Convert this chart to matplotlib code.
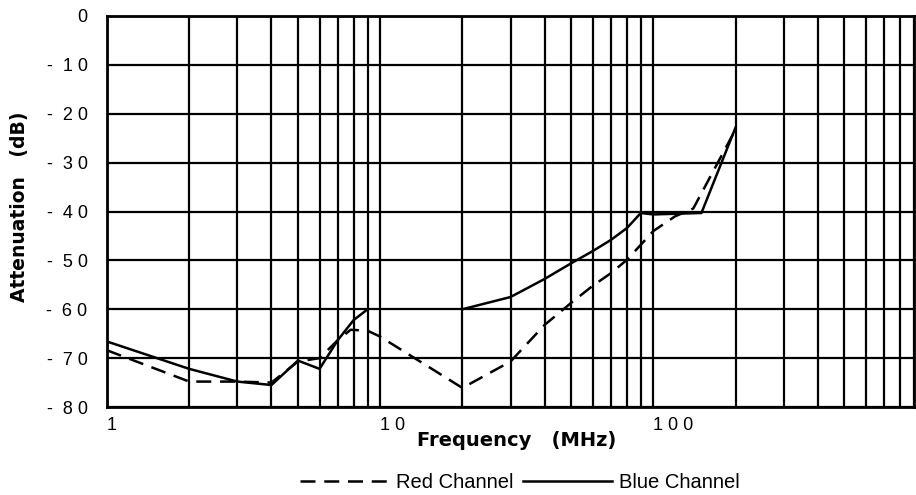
import numpy as np
import matplotlib
matplotlib.use('Agg')
import matplotlib.pyplot as plt
from matplotlib.lines import Line2D

# (frequency in MHz, attenuation in dB)
red_freq = [1, 2, 3, 4, 5, 6, 7, 7.8, 9, 10, 20, 30, 40, 50, 60, 70, 80, 90, 100, 120, 140, 200]
red_db = [-68.4, -74.8, -74.8, -75.0, -70.7, -70.0, -66.3, -64.2, -64.4, -65.6, -76.1,
          -70.7, -63.2, -58.7, -55.2, -52.6, -49.9, -46.8, -44.0, -41.0, -39.4, -23.2]

# the blue trace has a gap between 9 and 20 MHz
blue_freq = [1, 2, 3, 4, 5, 6, 7, 8, 9, np.nan, 20, 30, 40, 50, 60, 70, 80, 90, 100, 150, 200]
blue_db = [-66.6, -72.2, -74.8, -75.5, -70.5, -72.2, -66.3, -62.2, -60.0, np.nan, -60.0,
           -57.5, -53.8, -50.6, -48.1, -45.8, -43.4, -40.3, -40.6, -40.3, -22.8]

y_ticks = [0, -10, -20, -30, -40, -50, -60, -70, -80]
y_labels = ['0', '-  1 0', '-  2 0', '-  3 0', '-  4 0', '-  5 0', '-  6 0', '-  7 0', '-  8 0']
x_decades = [1, 10, 100]
x_labels = ['1', '1 0', '1 0 0']

plt.rcParams['font.family'] = ['Liberation Sans', 'DejaVu Sans']

fig = plt.figure(figsize=(9.16, 4.95), dpi=100)
ax = fig.add_axes([107 / 916, 1 - 407 / 495, (914 - 107) / 916, (407 - 16) / 495])

ax.plot(red_freq, red_db, color='black', lw=1.8, dashes=(6, 3.5))
ax.plot(blue_freq, blue_db, color='black', lw=1.8)

ax.set_xscale('log')
ax.set_xlim(1, 900)
ax.set_ylim(-80, 0)

# grid at every 1..9 x decade, labels only on the decades
grid_x = [m * d for d in x_decades for m in range(1, 10)]
grid_lab = [x_labels[x_decades.index(v)] if v in x_decades else '' for v in grid_x]
ax.set_xticks(grid_x)
ax.set_xticklabels(grid_lab, ha='left')
ax.xaxis.set_minor_locator(matplotlib.ticker.NullLocator())
ax.set_yticks(y_ticks)
ax.set_yticklabels(y_labels)
ax.tick_params(length=0, labelsize=13)
ax.tick_params(axis='y', pad=14)
ax.tick_params(axis='x', pad=7)
ax.grid(True, color='black', lw=1.6)
for s in ax.spines.values():
    s.set_linewidth(2.0)

ax.set_xlabel('Frequency   (MHz)', fontsize=14, fontweight='bold', family='DejaVu Sans')
ax.xaxis.set_label_coords(0.508, -0.062)
ax.set_ylabel('Attenuation   (dB)', fontsize=13.5, fontweight='bold', family='DejaVu Sans')
ax.yaxis.set_label_coords(-0.097, 0.513)

handles = [Line2D([], [], color='black', lw=1.8, dashes=(6, 3.5)),
           Line2D([], [], color='black', lw=1.8)]
fig.legend(handles, ['Red Channel', 'Blue Channel'], loc='center', ncol=2,
           bbox_to_anchor=(520 / 916, 1 - 483 / 495), frameon=False, fontsize=14.5,
           handlelength=4.4, handletextpad=0.35, columnspacing=0.5)

fig.savefig('out.png', dpi=100)
